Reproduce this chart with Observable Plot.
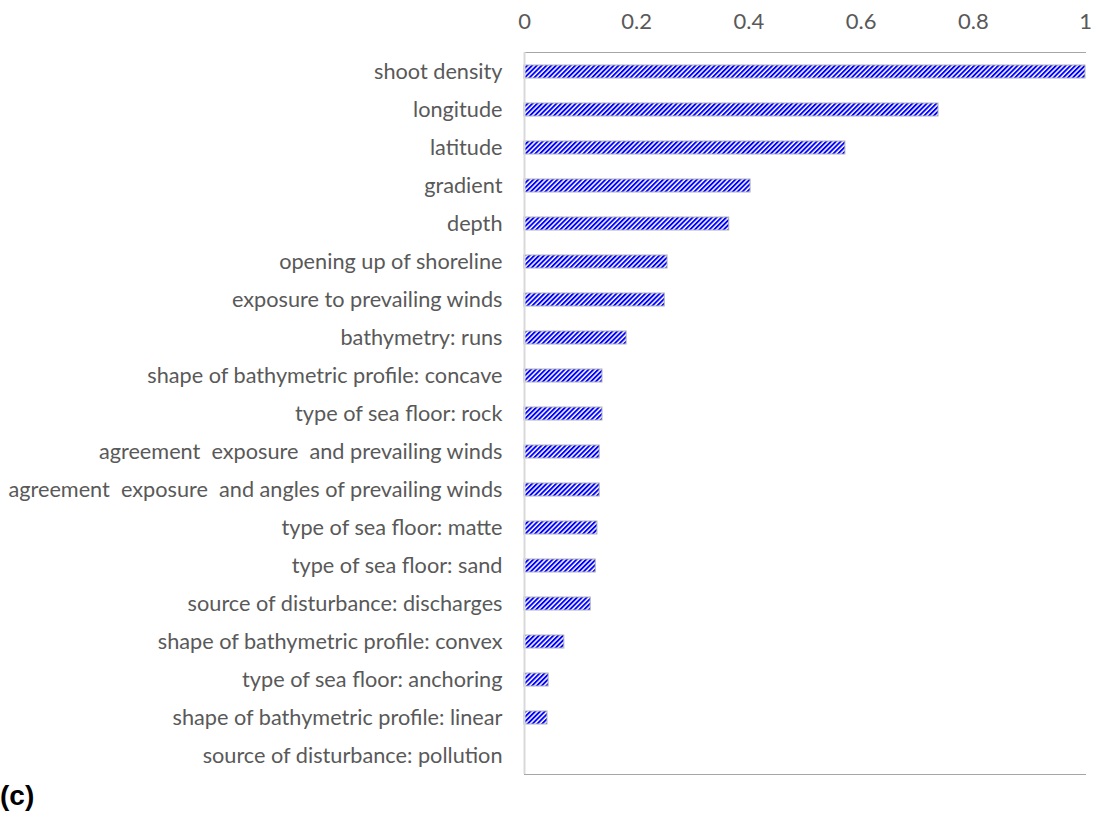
<!DOCTYPE html>
<html>
<head>
<meta charset="utf-8">
<script src="https://cdn.jsdelivr.net/npm/d3@7"></script>
<script src="https://cdn.jsdelivr.net/npm/@observablehq/plot@0.6"></script>
<style>
  html, body { margin: 0; padding: 0; background: #fff; }
  #wrap { position: relative; width: 1104px; height: 817px; }
  #wrap svg text { white-space: pre; }
  #tag { position: absolute; left: 0px; top: 780px; font-family: "Liberation Sans", Arial, sans-serif; font-weight: bold; font-size: 28px; color: #000; }
</style>
</head>
<body>
<div id="wrap"><div id="tag">(c)</div></div>
<script>
const categories = [
  "shoot density",
  "longitude",
  "latitude",
  "gradient",
  "depth",
  "opening up of shoreline",
  "exposure to prevailing winds",
  "bathymetry: runs",
  "shape of bathymetric profile: concave",
  "type of sea floor: rock",
  "agreement  exposure  and prevailing winds",
  "agreement  exposure  and angles of prevailing winds",
  "type of sea floor: matte",
  "type of sea floor: sand",
  "source of disturbance: discharges",
  "shape of bathymetric profile: convex",
  "type of sea floor: anchoring",
  "shape of bathymetric profile: linear",
  "source of disturbance: pollution"
];
const values = [1.0, 0.738, 0.572, 0.403, 0.365, 0.255, 0.250, 0.182, 0.139, 0.139, 0.134, 0.134, 0.130, 0.127, 0.118, 0.071, 0.043, 0.041, 0];
const xTicks = [0, 0.2, 0.4, 0.6, 0.8, 1];

const data = categories.map((c, i) => ({category: c, value: values[i]}));

const chart = Plot.plot({
  width: 1104,
  height: 817,
  marginLeft: 524,
  marginRight: 19,
  marginTop: 52,
  marginBottom: 43,
  style: {fontFamily: "Lato, 'Open Sans', sans-serif", background: "#fff"},
  x: {domain: [0, 1]},
  y: {domain: categories, paddingInner: 0.66, paddingOuter: 0.33},
  marks: [
    Plot.frame({anchor: "top", stroke: "#a6a6a6", strokeOpacity: 1}),
    Plot.frame({anchor: "bottom", stroke: "#a6a6a6", strokeOpacity: 1}),
    Plot.barX(data, {x: "value", y: "category", fill: "url(#stripes)", stroke: "#b0b0b0", strokeWidth: 1}),
    Plot.ruleX([0], {stroke: "#d9d9d9", strokeWidth: 2}),
    Plot.axisX({anchor: "top", ticks: xTicks, tickSize: 0, tickPadding: 24, fontSize: 22, fill: "#595959", tickFormat: d => String(d), label: null}),
    Plot.axisY({anchor: "left", tickSize: 0, tickPadding: 22, fontSize: 21.7, fill: "#595959", label: null})
  ]
});

const ns = "http://www.w3.org/2000/svg";
const defs = document.createElementNS(ns, "defs");
const pat = document.createElementNS(ns, "pattern");
pat.setAttribute("id", "stripes");
pat.setAttribute("patternUnits", "userSpaceOnUse");
pat.setAttribute("width", "3.4");
pat.setAttribute("height", "10");
pat.setAttribute("patternTransform", "rotate(45)");
const bg = document.createElementNS(ns, "rect");
bg.setAttribute("width", "3.4"); bg.setAttribute("height", "10"); bg.setAttribute("fill", "#ffffff");
const st = document.createElementNS(ns, "rect");
st.setAttribute("width", "1.9"); st.setAttribute("height", "10"); st.setAttribute("fill", "#0000ff");
pat.appendChild(bg); pat.appendChild(st);
defs.appendChild(pat);
chart.insertBefore(defs, chart.firstChild);

document.getElementById("wrap").insertBefore(chart, document.getElementById("tag"));
</script>
</body>
</html>
